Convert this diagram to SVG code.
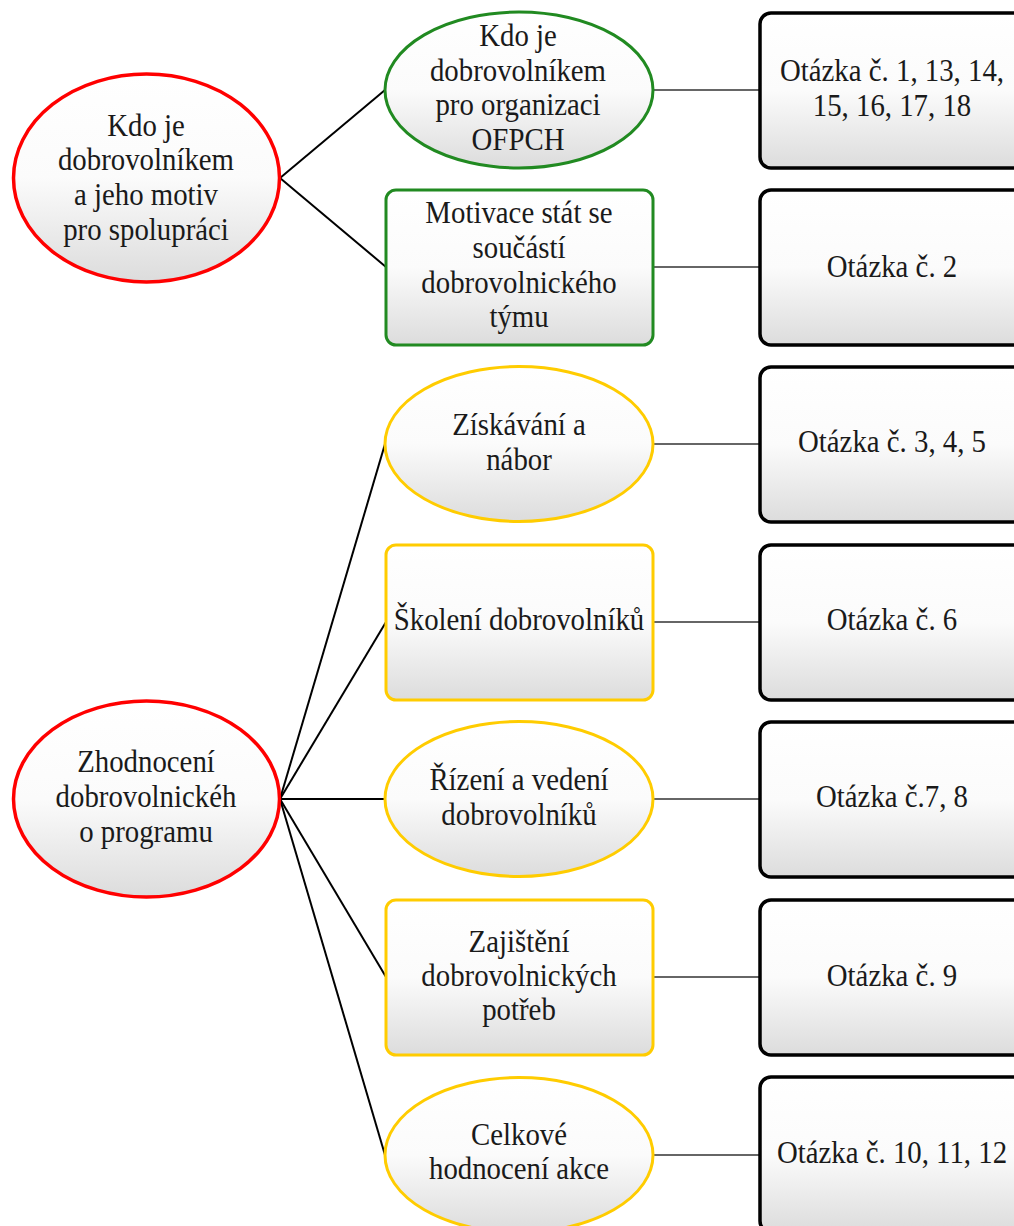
<svg xmlns="http://www.w3.org/2000/svg" width="1014" height="1226" viewBox="0 0 1014 1226">
<defs>
<linearGradient id="g" x1="0" y1="0" x2="0" y2="1">
<stop offset="0" stop-color="#ffffff"/>
<stop offset="0.5" stop-color="#fbfbfb"/>
<stop offset="1" stop-color="#dcdcdc"/>
</linearGradient>
</defs>
<style>
text{font-family:"Liberation Serif","Times New Roman",serif;font-size:31px;fill:#1a1a1a;text-anchor:middle}
.red{fill:url(#g);stroke:#ff0000;stroke-width:3.5}
.green{fill:url(#g);stroke:#218a21;stroke-width:3}
.yellow{fill:url(#g);stroke:#ffcc00;stroke-width:3}
.q{fill:url(#g);stroke:#000000;stroke-width:3.5}
.c{stroke:#000;stroke-width:2;fill:none}
.h{stroke:#333;stroke-width:1.5;fill:none}
</style>
<g id="connectors">
<line class="c" x1="280" y1="178" x2="385" y2="90"/>
<line class="c" x1="280" y1="178" x2="386" y2="267"/>
<line class="c" x1="280" y1="799" x2="385" y2="444"/>
<line class="c" x1="280" y1="799" x2="386" y2="622"/>
<line class="c" x1="280" y1="799" x2="385" y2="799"/>
<line class="c" x1="280" y1="799" x2="386" y2="977"/>
<line class="c" x1="280" y1="799" x2="385" y2="1155"/>
<line class="h" x1="653" y1="90" x2="760" y2="90"/>
<line class="h" x1="653" y1="267" x2="760" y2="267"/>
<line class="h" x1="653" y1="444" x2="760" y2="444"/>
<line class="h" x1="653" y1="622" x2="760" y2="622"/>
<line class="h" x1="653" y1="799" x2="760" y2="799"/>
<line class="h" x1="653" y1="977" x2="760" y2="977"/>
<line class="h" x1="653" y1="1155" x2="760" y2="1155"/>
</g>
<g id="root1">
<ellipse class="red" cx="146.5" cy="178" rx="133" ry="104"/>
<g transform="translate(146 0) scale(0.93 1)">
<text x="0" y="136">Kdo je</text>
<text x="0" y="170.5">dobrovolníkem</text>
<text x="0" y="205">a jeho motiv</text>
<text x="0" y="240">pro spolupráci</text>
</g>
</g>
<g id="root2">
<ellipse class="red" cx="146.5" cy="799" rx="133" ry="98"/>
<g transform="translate(146 0) scale(0.93 1)">
<text x="0" y="772">Zhodnocení</text>
<text x="0" y="807">dobrovolnickéh</text>
<text x="0" y="842">o programu</text>
</g>
</g>
<g id="n1">
<ellipse class="green" cx="519" cy="90" rx="134" ry="78"/>
<g transform="translate(518 0) scale(0.93 1)">
<text x="0" y="46">Kdo je</text>
<text x="0" y="81">dobrovolníkem</text>
<text x="0" y="115">pro organizaci</text>
<text x="0" y="150">OFPCH</text>
</g>
</g>
<g id="n2">
<rect class="green" x="386" y="190" width="267" height="155" rx="10"/>
<g transform="translate(519 0) scale(0.93 1)">
<text x="0" y="223">Motivace stát se</text>
<text x="0" y="258">součástí</text>
<text x="0" y="293">dobrovolnického</text>
<text x="0" y="327">týmu</text>
</g>
</g>
<g id="n3">
<ellipse class="yellow" cx="519" cy="444" rx="134" ry="77.5"/>
<g transform="translate(519 0) scale(0.93 1)">
<text x="0" y="435">Získávání a</text>
<text x="0" y="470">nábor</text>
</g>
</g>
<g id="n4">
<rect class="yellow" x="386" y="545" width="267" height="155" rx="10"/>
<g transform="translate(519 0) scale(0.93 1)">
<text x="0" y="630">Školení dobrovolníků</text>
</g>
</g>
<g id="n5">
<ellipse class="yellow" cx="519" cy="799" rx="134" ry="77.5"/>
<g transform="translate(519 0) scale(0.93 1)">
<text x="0" y="790">Řízení a vedení</text>
<text x="0" y="825">dobrovolníků</text>
</g>
</g>
<g id="n6">
<rect class="yellow" x="386" y="900" width="267" height="155" rx="10"/>
<g transform="translate(519 0) scale(0.93 1)">
<text x="0" y="952">Zajištění</text>
<text x="0" y="986">dobrovolnických</text>
<text x="0" y="1020">potřeb</text>
</g>
</g>
<g id="n7">
<ellipse class="yellow" cx="519" cy="1155" rx="134" ry="77.5"/>
<g transform="translate(519 0) scale(0.93 1)">
<text x="0" y="1145">Celkové</text>
<text x="0" y="1179">hodnocení akce</text>
</g>
</g>
<g id="q1">
<rect class="q" x="760" y="13" width="280" height="155" rx="11"/>
<g transform="translate(892 0) scale(0.93 1)">
<text x="0" y="81">Otázka č. 1, 13, 14,</text>
<text x="0" y="116">15, 16, 17, 18</text>
</g>
</g>
<g id="q2">
<rect class="q" x="760" y="190" width="280" height="155" rx="11"/>
<g transform="translate(892 0) scale(0.93 1)"><text x="0" y="277">Otázka č. 2</text></g>
</g>
<g id="q3">
<rect class="q" x="760" y="367" width="280" height="155" rx="11"/>
<g transform="translate(892 0) scale(0.93 1)"><text x="0" y="452">Otázka č. 3, 4, 5</text></g>
</g>
<g id="q4">
<rect class="q" x="760" y="545" width="280" height="155" rx="11"/>
<g transform="translate(892 0) scale(0.93 1)"><text x="0" y="630">Otázka č. 6</text></g>
</g>
<g id="q5">
<rect class="q" x="760" y="722" width="280" height="155" rx="11"/>
<g transform="translate(892 0) scale(0.93 1)"><text x="0" y="807">Otázka č.7, 8</text></g>
</g>
<g id="q6">
<rect class="q" x="760" y="900" width="280" height="155" rx="11"/>
<g transform="translate(892 0) scale(0.93 1)"><text x="0" y="986">Otázka č. 9</text></g>
</g>
<g id="q7">
<rect class="q" x="760" y="1077" width="280" height="155" rx="11"/>
<g transform="translate(892 0) scale(0.93 1)"><text x="0" y="1163">Otázka č. 10, 11, 12</text></g>
</g>
</svg>
